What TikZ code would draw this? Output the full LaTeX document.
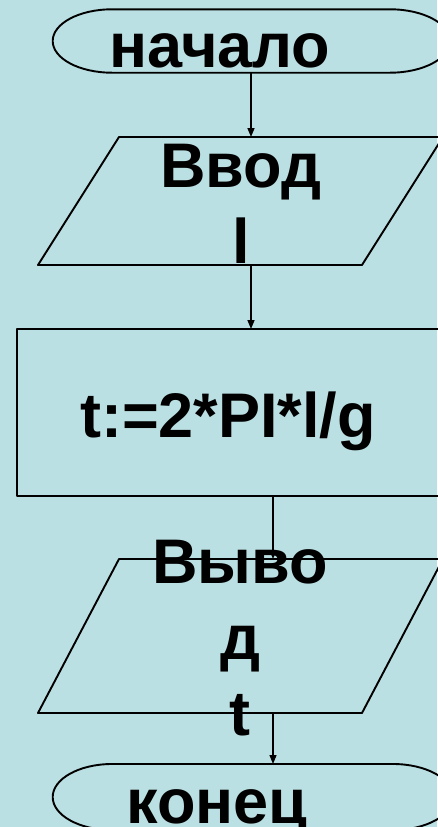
\documentclass[tikz,border=0pt]{standalone}
\usepackage{fontspec}
\setmainfont{Liberation Sans}
\usetikzlibrary{arrows.meta}
\definecolor{bgc}{RGB}{187,224,227}
\tikzset{
  shape line/.style={draw=black, line width=1.9pt, line join=round},
  flow/.style={draw=black, line width=1.5pt, -{Triangle[length=9pt,width=7pt]}},
  lbl/.style={anchor=base, inner sep=0pt, font=\fontsize{63}{74}\selectfont\bfseries, text=black},
}
\begin{document}
\begin{tikzpicture}[x=1pt,y=-1pt]
\fill[bgc] (0,0) rectangle (437,827);
\useasboundingbox (0,0) rectangle (437,827);
% shape anchors
\coordinate (s1) at (251,72.7);
\coordinate (i0) at (251,137);
\coordinate (i1) at (251,265);
\coordinate (p0) at (251,329);
\coordinate (p1) at (273,496);
\coordinate (o0) at (273,559);
\coordinate (o1) at (273,713);
\coordinate (e0) at (273,764);
% start terminator
\draw[shape line] (112,9.3) -- (390,9.3) arc[start angle=-90,end angle=90,x radius=60,y radius=31.7] -- (112,72.7) arc[start angle=90,end angle=270,x radius=59.3,y radius=31.7] -- cycle;
% input parallelogram
\draw[shape line] (119,137) -- (443,137) -- (362,265) -- (38,265) -- cycle;
% process
\draw[shape line] (17,329) rectangle (440,496);
% output parallelogram
\draw[shape line] (119,559) -- (443,559) -- (362,713) -- (38,713) -- cycle;
% end terminator
\draw[shape line] (112,764) -- (393,764) arc[start angle=-90,end angle=90,x radius=60,y radius=33] -- (112,830) arc[start angle=90,end angle=270,x radius=59.3,y radius=33] -- cycle;
% connectors
\draw[flow] (s1) -- (i0);
\draw[flow] (i1) -- (p0);
\draw[flow, line width=1.2pt] (p1) -- (o0);
\draw[flow, line width=1.2pt] (o1) -- (e0);
% texts
\node[lbl] (tstart) at (220,67) {начало};
\node[lbl] (tin1) at (241,187) {Ввод};
\node[lbl] (tin2) at (241,263) {l};
\node[lbl] (tproc) at (228,437) {t:=2*PI*l/g};
\node[lbl] (tout1) at (240,583) {Выво};
\node[lbl] (tout2) at (240,659) {д};
\node[lbl] (tout3) at (240,735) {t};
\node[lbl] (tend) at (217,823) {конец};
\end{tikzpicture}
\end{document}
